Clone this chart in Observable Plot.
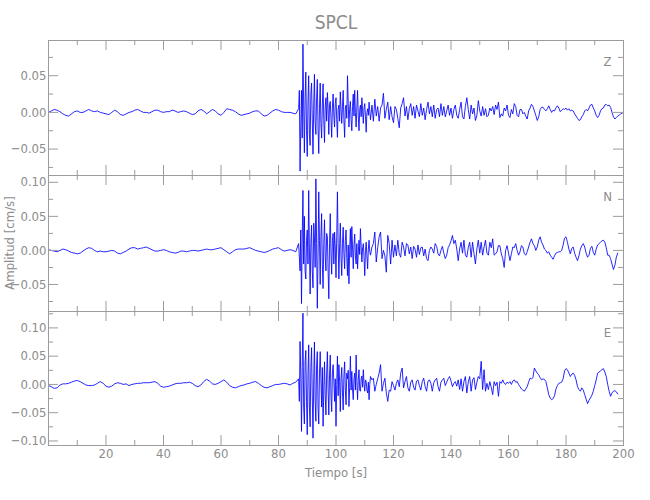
<!DOCTYPE html>
<html>
<head>
<meta charset="utf-8">
<script src="https://cdn.jsdelivr.net/npm/d3@7"></script>
<script src="https://cdn.jsdelivr.net/npm/@observablehq/plot@0.6"></script>
<style>
  html, body { margin: 0; padding: 0; background: #fff; }
  #chart { position: relative; width: 650px; height: 500px; overflow: hidden; }
  #chart svg { position: absolute; left: 0; top: 0; }
</style>
</head>
<body>
<div id="chart"></div>
<script>
// ---- Data (velocity in cm/s) ----
const station = "SPCL";
const components = ["Z", "N", "E"];
// three sampling blocks per trace: pre-event (1 s), strong motion (0.25 s), coda (0.5 s)
const quietStart = 0,   quietStep = 1;
const strongStart = 87, strongStep = 0.25;
const codaStart = 112,  codaStep = 0.5;

const zQuiet = [
  0.000, 0.002, 0.004, 0.003, 0.001, -0.002, -0.004, -0.005, -0.002, 0.001,
  0.002, 0.000, 0.000, 0.002, 0.004, 0.002, 0.001, 0.002, 0.000, -0.001,
  -0.002, -0.003, 0.000, 0.003, 0.001, -0.003, -0.004, -0.002, 0.000, 0.001,
  0.003, 0.004, 0.002, 0.000, 0.000, -0.001, 0.001, 0.003, 0.003, 0.001,
  0.000, 0.001, 0.001, 0.003, 0.002, 0.000, 0.001, 0.002, 0.001, -0.001,
  -0.003, -0.002, 0.002, 0.004, 0.002, -0.002, 0.001, 0.004, 0.002, -0.002,
  -0.004, 0.000, 0.005, 0.004, 0.003, 0.001, -0.002, -0.004, -0.003, -0.002,
  -0.001, 0.001, 0.002, 0.002, -0.002, -0.005, -0.004, -0.001, 0.002, 0.004,
  0.003, 0.001, 0.000, 0.000, 0.000, -0.001, -0.002
];
const zStrong = [
  0.005, 0.030, -0.080, -0.020,  0.030, -0.035, 0.093, 0.010,
  -0.055, 0.020, 0.055, -0.025,  -0.060, 0.015, 0.050, -0.030,
  -0.045, 0.025, 0.040, -0.010,  -0.057, 0.010, 0.052, -0.015,
  -0.030, 0.020, 0.045, -0.020,  -0.056, 0.005, 0.040, -0.015,
  -0.035, 0.010, 0.039, -0.010,  -0.041, 0.008, 0.020, -0.012,
  0.027, 0.005, -0.030, 0.010,   0.015, -0.008, -0.034, 0.006,
  0.025, -0.005, -0.020, 0.012,  0.020, -0.010, -0.034, 0.004,
  0.010, -0.012, 0.028, 0.005,   -0.015, 0.008, 0.030, -0.010,
  -0.034, 0.006, 0.010, -0.008,  0.050, 0.012, -0.020, 0.005,
  0.015, -0.010, -0.025, 0.008,  0.025, -0.005, 0.030, 0.000,
  -0.020, 0.006, 0.030, -0.004,  -0.025, 0.004, 0.010, -0.006,
  0.020, 0.002, -0.015, 0.006,   0.012, -0.006, -0.027, 0.000,
  0.005, -0.004, 0.014, 0.002
];
const zCoda = [
  -0.010, 0.010, -0.012, 0.018, -0.005, 0.008, -0.012, 0.006, 0.010, 0.026,
  -0.008, 0.004, 0.014, -0.010, 0.008, -0.006, -0.014, 0.008, 0.004, -0.008,
  -0.021, 0.006, 0.012, 0.020, -0.005, 0.008, -0.010, 0.005, 0.012, -0.004,
  0.008, -0.008, 0.010, 0.002, -0.006, 0.012, -0.004, 0.006, -0.010, 0.004,
  0.014, -0.002, 0.008, -0.006, 0.010, -0.008, 0.004, 0.006, -0.006, 0.012,
  -0.004, 0.008, -0.006, 0.002, 0.010, -0.004, 0.006, -0.008, 0.004, 0.010,
  -0.004, -0.008, 0.004, 0.014, -0.006, -0.009, 0.008, 0.020, 0.004, -0.009,
  0.010, -0.002, 0.006, -0.011, -0.004, 0.016, 0.002, -0.005, 0.008, -0.004,
  0.005, -0.006, -0.004, 0.006, 0.002, 0.008, -0.003, 0.010, 0.004, 0.014,
  -0.007, -0.002, -0.005, 0.006, 0.002, 0.010, -0.004, -0.007, 0.004, -0.002,
  0.012, 0.008, -0.004, -0.006, 0.004, 0.004, -0.002, 0.000, -0.005, -0.009,
  0.002, 0.006, 0.011, 0.008, 0.002, -0.004, -0.011, -0.006, 0.004, 0.007,
  0.007, 0.004, 0.002, 0.005, 0.009, 0.004, 0.000, 0.003, 0.002, 0.006,
  0.009, 0.006, 0.001, 0.003, 0.005, 0.004, 0.006, 0.003, 0.005, 0.002,
  0.003, 0.002, -0.002, -0.005, -0.008, -0.011, -0.010, -0.006, -0.003, 0.002,
  0.004, 0.002, 0.006, 0.010, 0.011, 0.006, 0.002, -0.004, -0.007, -0.004,
  0.002, 0.005, 0.006, 0.010, 0.011, 0.009, 0.010, 0.007, 0.000, -0.006,
  -0.009, -0.007, -0.005, -0.004, -0.002, -0.001, 0.000
];

const nQuiet = [
  0.001, 0.000, -0.001, -0.002, 0.000, 0.002, 0.001, -0.001, -0.003, -0.004,
  -0.005, -0.004, -0.001, 0.002, 0.004, 0.003, 0.000, -0.002, -0.001, -0.002,
  -0.002, -0.001, 0.000, -0.001, -0.004, -0.005, -0.003, -0.001, 0.002, 0.004,
  0.004, 0.002, 0.003, 0.004, 0.005, 0.003, 0.001, -0.001, -0.001, 0.000,
  0.001, 0.000, -0.002, -0.003, -0.004, -0.003, -0.001, -0.001, -0.002, -0.001,
  0.000, 0.000, -0.001, 0.000, 0.001, 0.002, 0.001, 0.001, 0.002, 0.003,
  0.004, 0.001, -0.002, -0.005, -0.002, 0.001, 0.002, 0.002, 0.002, 0.003,
  0.004, 0.002, 0.000, -0.001, -0.002, -0.003, -0.002, 0.000, 0.002, 0.003,
  0.004, 0.001, -0.001, 0.000, 0.001, 0.000, -0.002
];
const nStrong = [
  0.010, -0.010, -0.030, 0.030,  -0.078, 0.020, 0.088, -0.020,
  0.050, -0.030, -0.042, 0.015,  0.030, -0.020, 0.088, 0.005,
  -0.064, 0.010, 0.037, -0.030,  -0.055, 0.040, 0.020, -0.025,
  0.105, 0.010, -0.085, -0.010,  0.086, 0.015, -0.050, 0.020,
  0.054, -0.020, -0.056, 0.010,  0.045, -0.010, -0.030, 0.025,
  0.020, -0.030, -0.071, 0.010,  0.054, -0.005, -0.035, 0.015,
  0.025, -0.020, 0.027, 0.005,   -0.040, 0.020, 0.086, 0.010,
  -0.042, 0.005, 0.040, -0.010,  -0.037, 0.010, 0.034, -0.005,
  -0.027, 0.015, 0.030, -0.010,  -0.037, 0.008, -0.049, 0.000,
  0.032, -0.010, 0.035, 0.005,   -0.027, 0.008, 0.024, -0.008,
  -0.020, 0.010, -0.027, -0.004, 0.015, -0.006, 0.032, 0.006,
  -0.017, 0.004, 0.010, -0.010,  -0.037, 0.000, 0.012, -0.008,
  -0.027, 0.002, 0.015, -0.002
];
const nCoda = [
  -0.007, 0.005, 0.010, 0.027, -0.017, 0.004, 0.020, 0.027, -0.012, 0.000,
  -0.008, -0.032, 0.022, 0.010, -0.020, 0.015, -0.010, 0.008, -0.008, 0.015,
  -0.005, -0.010, 0.012, 0.005, -0.008, 0.010, 0.008, -0.005, 0.005, -0.012,
  0.006, 0.002, -0.010, 0.008, -0.006, 0.004, 0.005, -0.008, 0.002, -0.012,
  -0.015, 0.000, 0.005, 0.002, -0.004, 0.010, 0.006, -0.005, -0.008, 0.000,
  0.006, -0.004, -0.012, -0.007, 0.004, 0.008, 0.014, 0.022, 0.010, 0.015,
  0.002, -0.015, 0.002, 0.012, -0.004, 0.015, -0.007, -0.010, 0.004, 0.012,
  -0.010, 0.012, -0.005, -0.020, 0.002, 0.015, -0.004, 0.012, -0.007, 0.005,
  0.015, -0.004, -0.007, 0.012, 0.004, 0.017, -0.007, -0.005, -0.002, 0.007,
  0.007, -0.005, -0.012, -0.025, 0.000, 0.007, -0.004, -0.015, -0.005, 0.005,
  0.004, 0.010, 0.000, -0.007, -0.002, 0.007, 0.005, -0.005, -0.007, -0.002,
  0.005, 0.012, 0.017, 0.010, 0.007, 0.000, 0.005, 0.015, 0.020, 0.012,
  0.008, 0.002, 0.000, -0.004, -0.002, -0.007, -0.010, -0.013, -0.008, -0.004,
  -0.003, -0.002, -0.002, 0.000, 0.008, 0.018, 0.020, 0.012, 0.002, -0.005,
  0.003, 0.005, -0.004, -0.010, -0.015, -0.008, 0.002, 0.007, 0.010, 0.005,
  -0.004, -0.010, -0.007, 0.003, 0.006, -0.003, -0.007, 0.002, 0.008, 0.010,
  0.012, 0.014, 0.015, 0.012, 0.004, -0.007, -0.007, -0.012, -0.020, -0.028,
  -0.022, -0.010, -0.004
];

const eQuiet = [
  -0.002, -0.004, -0.007, -0.006, -0.001, 0.001, 0.001, 0.002, 0.004, 0.006,
  0.007, 0.005, 0.002, -0.001, -0.002, -0.002, -0.001, 0.002, 0.005, 0.002,
  -0.003, -0.005, -0.003, 0.001, 0.003, 0.002, 0.000, 0.001, -0.002, 0.000,
  0.001, 0.002, 0.002, 0.003, 0.003, 0.003, 0.004, 0.005, 0.002, -0.003,
  -0.005, -0.004, -0.003, -0.001, 0.001, 0.002, 0.002, 0.003, 0.003, 0.004,
  0.002, -0.002, -0.004, -0.001, 0.005, 0.009, 0.006, 0.001, 0.000, 0.002,
  0.005, 0.008, 0.004, -0.002, -0.005, -0.006, -0.004, -0.002, -0.001, 0.001,
  0.002, 0.004, 0.005, 0.002, -0.002, -0.005, -0.006, -0.004, -0.002, 0.000,
  0.000, 0.001, 0.002, 0.001, -0.001, 0.002, 0.004
];
const eStrong = [
  0.010, -0.030, 0.076, 0.020,   -0.083, 0.030, 0.126, -0.040,
  -0.070, 0.040, 0.060, -0.030,  -0.089, 0.020, 0.070, -0.040,
  -0.075, 0.030, 0.065, -0.020,  -0.095, 0.010, 0.075, -0.030,
  -0.065, 0.035, 0.058, -0.040,  -0.070, 0.020, 0.058, 0.010,
  -0.040, 0.030, -0.074, -0.010, 0.040, -0.020, -0.054, 0.020,
  0.058, -0.010, -0.054, 0.015,  0.052, -0.020, -0.048, 0.020,
  0.035, 0.005, -0.030, 0.010,   -0.074, 0.000, 0.050, -0.020,
  0.035, 0.005, -0.048, 0.010,   0.030, -0.015, -0.045, 0.015,
  0.040, -0.010, -0.036, 0.020,  0.010, 0.025, -0.039, -0.005,
  0.050, -0.010, 0.023, -0.008,  -0.027, 0.010, 0.020, -0.010,
  0.052, 0.005, -0.027, 0.008,   0.026, -0.010, -0.012, 0.010,
  0.015, -0.005, 0.026, 0.002,   -0.012, 0.008, 0.005, -0.010,
  -0.015, 0.004, -0.027, 0.000
];
const eCoda = [
  0.014, 0.008, 0.011, -0.012, 0.000, 0.010, 0.020, 0.035, -0.012, 0.002,
  0.011, -0.015, -0.030, -0.010, -0.012, 0.005, -0.002, -0.010, 0.002, 0.008,
  -0.004, 0.020, 0.029, -0.006, 0.005, 0.014, -0.006, -0.012, 0.004, 0.008,
  -0.005, -0.010, 0.006, 0.008, -0.002, -0.010, 0.005, 0.011, -0.004, -0.012,
  0.006, 0.008, 0.002, -0.012, 0.003, 0.008, 0.011, -0.004, -0.012, 0.004,
  0.008, 0.011, -0.002, 0.004, 0.010, 0.014, 0.006, -0.004, 0.002, 0.005,
  -0.003, 0.008, -0.009, 0.010, -0.012, 0.005, 0.014, -0.015, 0.004, 0.014,
  -0.012, 0.008, 0.012, -0.009, 0.004, 0.014, 0.010, 0.041, -0.009, 0.026,
  -0.012, 0.002, -0.009, 0.005, -0.005, -0.018, 0.005, -0.002, 0.004, -0.021,
  0.005, 0.002, 0.008, 0.002, 0.000, 0.004, 0.002, 0.005, 0.000, 0.006,
  0.008, 0.004, 0.005, 0.000, -0.004, -0.008, -0.010, -0.012, -0.008, -0.004,
  0.004, 0.011, 0.010, 0.012, 0.029, 0.024, 0.020, 0.017, 0.012, 0.008,
  0.010, 0.009, 0.005, -0.006, -0.018, -0.024, -0.027, -0.025, -0.020, -0.008,
  -0.002, 0.002, 0.003, 0.004, 0.010, 0.024, 0.028, 0.026, 0.020, 0.014,
  0.018, 0.020, 0.016, 0.008, -0.004, -0.009, -0.012, -0.006, -0.010, -0.018,
  -0.026, -0.034, -0.028, -0.024, -0.019, -0.012, -0.002, 0.008, 0.020, 0.022,
  0.024, 0.026, 0.028, 0.022, 0.014, 0.000, -0.012, -0.021, -0.015, -0.012,
  -0.011, -0.013, -0.017
];

// axis extents and tick labels
const xDomain = [0, 200];
const xTickLabels = [20, 40, 60, 80, 100, 120, 140, 160, 180, 200];
const yDomains = [[-0.086, 0.098], [-0.0897, 0.110], [-0.108, 0.129]];
const yTickLabels = [
  [-0.05, 0.00, 0.05],
  [-0.05, 0.00, 0.05, 0.10],
  [-0.10, -0.05, 0.00, 0.05, 0.10]
];
const titleText = "SPCL";
const xLabel = "Tiempo [s]";
const yLabel = "Amplitud [cm/s]";

// ---- Layout ----
const W = 650, H = 500;
const left = 48, right = 27;
const panelTops = [40, 175, 311];
const panelBottoms = [175, 311, 445];
const FONT = '"DejaVu Sans Condensed", "DejaVu Sans", "Liberation Sans", sans-serif';
const GREY = "#8c8c8c";
const FRAME = "#9c9c9c";

function block(values, start, step) {
  return values.map((v, i) => ({t: start + i * step, v}));
}
function series(quiet, strong, coda) {
  return [
    ...block(quiet, quietStart, quietStep),
    ...block(strong, strongStart, strongStep),
    ...block(coda, codaStart, codaStep)
  ];
}
const traces = [
  series(zQuiet, zStrong, zCoda),
  series(nQuiet, nStrong, nCoda),
  series(eQuiet, eStrong, eCoda)
];

const chart = document.getElementById("chart");
const plotW = W - left - right;
const xMinor = d3.range(0, 201, 10).filter(d => d % 20 !== 0);
const xMajor = d3.range(0, 201, 20);
const textStyle = {fontFamily: FONT, fontStretch: "condensed", fontWeight: 300, color: GREY, background: "transparent"};

traces.forEach((data, k) => {
  const [lo, hi] = yDomains[k];
  const plotH = panelBottoms[k] - panelTops[k];
  const q = d3.range(Math.ceil(lo / 0.025 - 1e-9), Math.floor(hi / 0.025 + 1e-9) + 1).map(i => +(i * 0.025).toFixed(3));
  const yMajor = q.filter(d => Math.abs(Math.round(d / 0.05) * 0.05 - d) < 1e-9);
  const yMinor = q.filter(d => !yMajor.includes(d));
  const last = k === 2;
  const marks = [
    Plot.line(data, {x: "t", y: "v", stroke: "#0000ff", strokeWidth: 0.85, clip: true}),
    Plot.frame({stroke: FRAME}),
    Plot.tickY(yMajor, {y: d => d, insetRight: plotW - 10, stroke: FRAME}),
    Plot.tickY(yMajor, {y: d => d, insetLeft: plotW - 10, stroke: FRAME}),
    Plot.tickY(yMinor, {y: d => d, insetRight: plotW - 5, stroke: FRAME}),
    Plot.tickY(yMinor, {y: d => d, insetLeft: plotW - 5, stroke: FRAME}),
    Plot.tickX(xMajor, {x: d => d, insetBottom: plotH - 10, stroke: FRAME}),
    Plot.tickX(xMajor, {x: d => d, insetTop: plotH - 10, stroke: FRAME}),
    Plot.tickX(xMinor, {x: d => d, insetBottom: plotH - 5, stroke: FRAME}),
    Plot.tickX(xMinor, {x: d => d, insetTop: plotH - 5, stroke: FRAME}),
    Plot.axisY(yTickLabels[k], {tickSize: 0, tickPadding: 2, tickFormat: d3.format(".2f"), label: null, fontSize: 13, fill: GREY}),
    Plot.text([components[k]], {frameAnchor: "top-right", textAnchor: "middle", lineAnchor: "middle", dx: -16, dy: 21, fontSize: 13, fill: GREY})
  ];
  if (last) {
    marks.push(Plot.axisX(xTickLabels, {tickSize: 0, tickPadding: 3, label: null, fontSize: 13, fill: GREY}));
  }
  const svg = Plot.plot({
    width: W,
    height: H,
    marginLeft: left,
    marginRight: right,
    marginTop: panelTops[k],
    marginBottom: H - panelBottoms[k],
    x: {domain: xDomain, axis: last ? undefined : null},
    y: {domain: [lo, hi]},
    style: textStyle,
    marks
  });
  chart.appendChild(svg);
});

// title and axis labels over the whole plotting region
const labels = Plot.plot({
  width: W,
  height: H,
  marginLeft: left,
  marginRight: right,
  marginTop: panelTops[0],
  marginBottom: H - panelBottoms[2],
  style: textStyle,
  marks: [
    Plot.text([titleText], {frameAnchor: "top", lineAnchor: "middle", dy: -18, fontSize: 19, fill: GREY}),
    Plot.text([xLabel], {frameAnchor: "bottom", lineAnchor: "middle", dy: 27, fontSize: 13, fill: GREY}),
    Plot.text([yLabel], {frameAnchor: "left", lineAnchor: "middle", textAnchor: "middle", rotate: -90, dx: -39, fontSize: 13, fill: GREY})
  ]
});
chart.appendChild(labels);
</script>
</body>
</html>
